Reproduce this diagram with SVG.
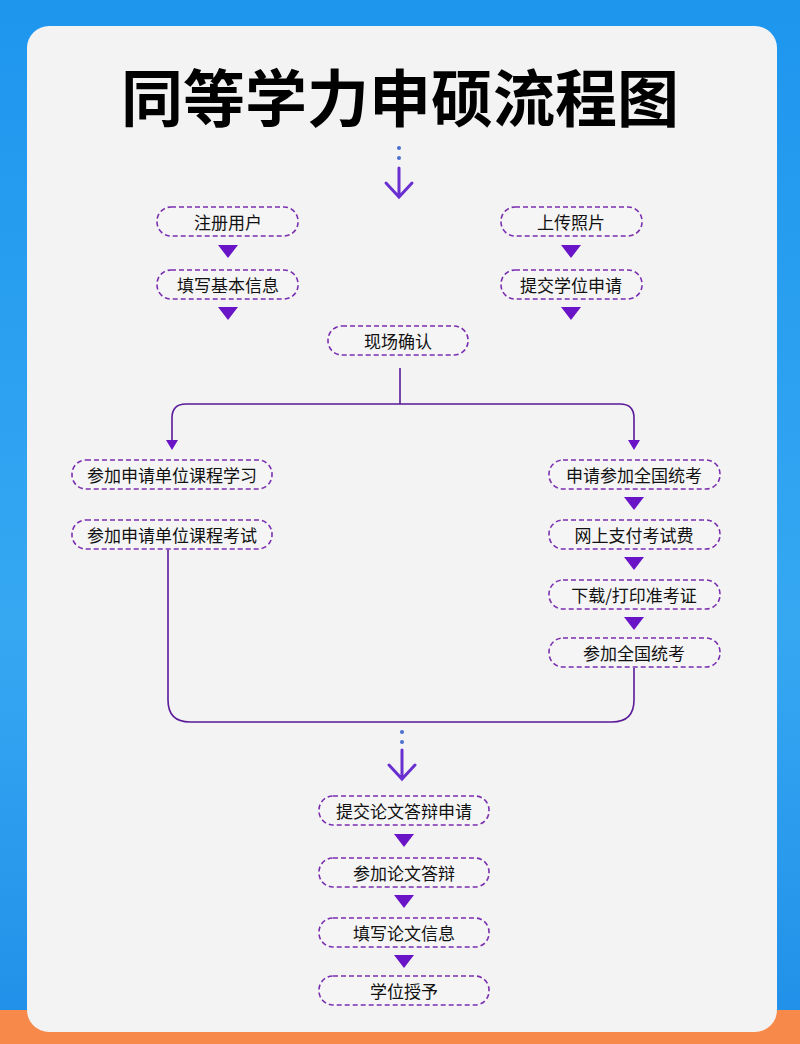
<svg xmlns="http://www.w3.org/2000/svg" width="800" height="1044" viewBox="0 0 800 1044">
<defs>
<linearGradient id="bg" x1="0" y1="0" x2="0" y2="1"><stop offset="0" stop-color="#1e96ee"/><stop offset="0.6" stop-color="#36a8f2"/><stop offset="1" stop-color="#1f8fe8"/></linearGradient>
</defs>
<style>
.n rect{fill:#f5f5f5;stroke:#7a2fb0;stroke-width:1.6;stroke-dasharray:5 3}
.n text{font-family:"Noto Sans CJK SC","Noto Sans CJK JP",sans-serif;font-size:17px;fill:#111;text-anchor:middle;dominant-baseline:central}
.tri{fill:#6a14c8}
.c{fill:none;stroke:#5a1a9a;stroke-width:1.6}
</style>
<rect width="800" height="1044" fill="url(#bg)"/>
<rect x="0" y="1010" width="800" height="34" fill="#f78a4a"/>
<rect x="27" y="26" width="750" height="1006" rx="22" fill="#f3f3f3"/>
<text x="400" y="122" font-family="'Noto Sans CJK SC',sans-serif" font-weight="700" font-size="62" text-anchor="middle" fill="#000">同等学力申硕流程图</text>
<g id="connectors">
<circle cx="399" cy="148" r="2" fill="#4a6fd0"/><circle cx="399" cy="158" r="2" fill="#4a6fd0"/>
<path d="M399,168 V196 M386,183 L399,197 L412,183" fill="none" stroke="#6a2fd0" stroke-width="3" stroke-linecap="round"/>
<circle cx="402" cy="732" r="2" fill="#4a6fd0"/><circle cx="402" cy="742" r="2" fill="#4a6fd0"/>
<path d="M402,750 V778 M389,765 L402,779 L415,765" fill="none" stroke="#6a2fd0" stroke-width="3" stroke-linecap="round"/>
<path class="c" d="M400,368 V404"/>
<path class="c" d="M172,441 V418 Q172,404 186,404 H620 Q634,404 634,418 V441"/>
<path class="c" d="M168,550 V700 Q168,722 190,722 H612 Q634,722 634,700 V668"/>
<g class="tri">
<path d="M166,440 H178 L172,450 Z"/><path d="M628,440 H640 L634,450 Z"/>
<path d="M218,245 H238 L228,258 Z"/><path d="M218,307 H238 L228,320 Z"/>
<path d="M561,245 H581 L571,258 Z"/><path d="M561,307 H581 L571,320 Z"/>
<path d="M624,497 H644 L634,510 Z"/><path d="M624,557 H644 L634,570 Z"/><path d="M624,617 H644 L634,630 Z"/>
<path d="M394,834 H414 L404,847 Z"/><path d="M394,895 H414 L404,908 Z"/><path d="M394,955 H414 L404,968 Z"/>
</g>
</g>
<g id="n1" class="n"><rect x="157" y="207" width="141" height="29" rx="14"/><text x="228" y="221">注册用户</text></g>
<g id="n2" class="n"><rect x="501" y="207" width="141" height="29" rx="14"/><text x="571" y="221">上传照片</text></g>
<g id="n3" class="n"><rect x="157" y="270" width="141" height="29" rx="14"/><text x="228" y="284">填写基本信息</text></g>
<g id="n4" class="n"><rect x="501" y="270" width="141" height="29" rx="14"/><text x="571" y="284">提交学位申请</text></g>
<g id="n5" class="n"><rect x="328" y="326" width="140" height="29" rx="14"/><text x="398" y="340">现场确认</text></g>
<g id="n6" class="n"><rect x="72" y="460" width="200" height="29" rx="14"/><text x="172" y="474">参加申请单位课程学习</text></g>
<g id="n7" class="n"><rect x="72" y="520" width="200" height="29" rx="14"/><text x="172" y="534">参加申请单位课程考试</text></g>
<g id="n8" class="n"><rect x="549" y="460" width="171" height="29" rx="14"/><text x="634" y="474">申请参加全国统考</text></g>
<g id="n9" class="n"><rect x="549" y="520" width="171" height="29" rx="14"/><text x="634" y="534">网上支付考试费</text></g>
<g id="n10" class="n"><rect x="549" y="580" width="171" height="29" rx="14"/><text x="634" y="594">下载/打印准考证</text></g>
<g id="n11" class="n"><rect x="549" y="638" width="171" height="29" rx="14"/><text x="634" y="652">参加全国统考</text></g>
<g id="n12" class="n"><rect x="319" y="796" width="170" height="29" rx="14"/><text x="404" y="810">提交论文答辩申请</text></g>
<g id="n13" class="n"><rect x="319" y="858" width="170" height="29" rx="14"/><text x="404" y="872">参加论文答辩</text></g>
<g id="n14" class="n"><rect x="319" y="918" width="170" height="29" rx="14"/><text x="404" y="932">填写论文信息</text></g>
<g id="n15" class="n"><rect x="319" y="976" width="170" height="29" rx="14"/><text x="404" y="990">学位授予</text></g>
</svg>
